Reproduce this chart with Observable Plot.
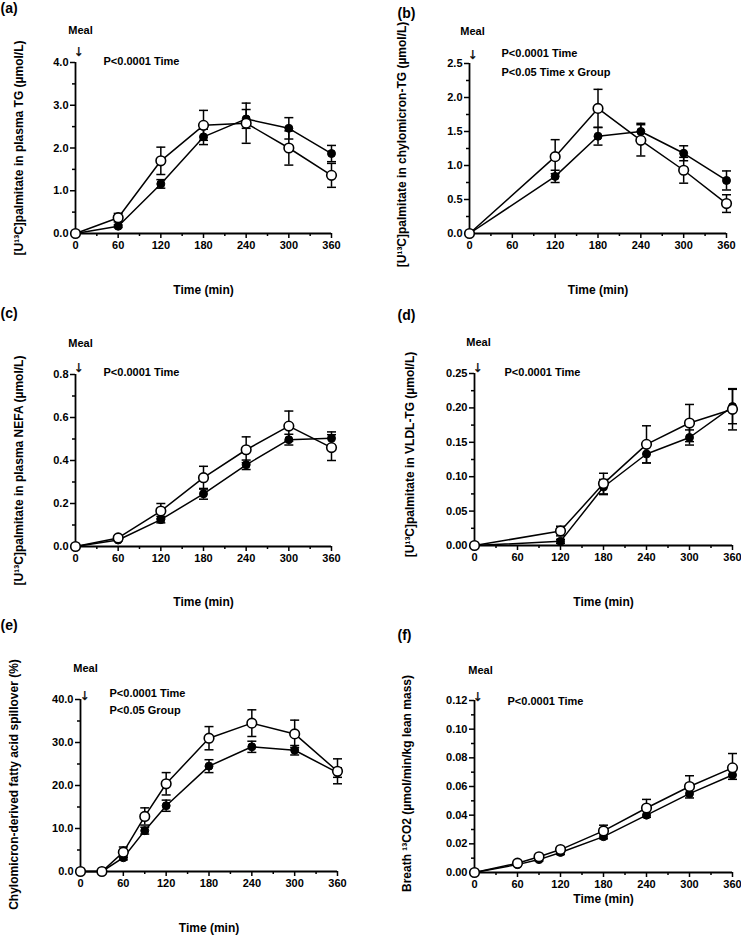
<!DOCTYPE html>
<html><head><meta charset="utf-8">
<script src="https://cdn.jsdelivr.net/npm/d3@7"></script>
<script src="https://cdn.jsdelivr.net/npm/@observablehq/plot@0.6"></script>
<style>
body{margin:0;background:#fff;}
#wrap{position:relative;width:741px;height:935px;overflow:hidden;background:#fff;}
.panel{position:absolute;}
</style></head><body><div id="wrap"></div>
<script>
// ---- data (mean ± SEM), open circles vs filled circles ----
const xTicks = [0, 60, 120, 180, 240, 300, 360];
const xMinor = [30, 90, 150, 210, 270, 330];

const timesA = [0, 60, 120, 180, 240, 300, 360];
const openA = [0, 0.37, 1.70, 2.53, 2.58, 2.00, 1.36];
const openErrA = [0, 0.10, 0.32, 0.35, 0.47, 0.40, 0.28];
const filledA = [0, 0.17, 1.16, 2.26, 2.68, 2.46, 1.87];
const filledErrA = [0, 0.03, 0.10, 0.18, 0.22, 0.25, 0.19];
const yTicksA = [0, 1, 2, 3, 4];
const yMinorA = [0.5, 1.5, 2.5, 3.5];

const timesB = [0, 120, 180, 240, 300, 360];
const openB = [0, 1.13, 1.84, 1.37, 0.93, 0.44];
const openErrB = [0, 0.25, 0.28, 0.23, 0.19, 0.13];
const filledB = [0, 0.84, 1.43, 1.50, 1.18, 0.78];
const filledErrB = [0, 0.09, 0.13, 0.12, 0.11, 0.14];
const yTicksB = [0, 0.5, 1.0, 1.5, 2.0, 2.5];
const yMinorB = [0.25, 0.75, 1.25, 1.75, 2.25];

const timesC = [0, 60, 120, 180, 240, 300, 360];
const openC = [0, 0.04, 0.165, 0.32, 0.45, 0.56, 0.46];
const openErrC = [0, 0.005, 0.035, 0.053, 0.06, 0.07, 0.06];
const filledC = [0, 0.03, 0.125, 0.245, 0.38, 0.497, 0.503];
const filledErrC = [0, 0.005, 0.015, 0.025, 0.022, 0.025, 0.03];
const yTicksC = [0, 0.2, 0.4, 0.6, 0.8];
const yMinorC = [0.1, 0.3, 0.5, 0.7];

const timesD = [0, 120, 180, 240, 300, 360];
const openD = [0, 0.021, 0.090, 0.147, 0.178, 0.198];
const openErrD = [0, 0.007, 0.015, 0.027, 0.027, 0.030];
const filledD = [0, 0.006, 0.085, 0.133, 0.157, 0.202];
const filledErrD = [0, 0.003, 0.011, 0.013, 0.011, 0.025];
const yTicksD = [0, 0.05, 0.10, 0.15, 0.20, 0.25];
const yMinorD = [0.025, 0.075, 0.125, 0.175, 0.225];

const timesE = [0, 30, 60, 90, 120, 180, 240, 300, 360];
const openE = [0, 0, 4.5, 12.8, 20.4, 31.0, 34.5, 32.0, 23.3];
const openErrE = [0, 0, 1.2, 2.0, 2.6, 2.7, 3.1, 3.2, 2.9];
const filledE = [0, 0, 3.2, 9.5, 15.3, 24.5, 29.0, 28.2, 23.0];
const filledErrE = [0, 0, 0.5, 0.8, 1.3, 1.5, 1.3, 1.1, 1.1];
const yTicksE = [0, 10, 20, 30, 40];
const yMinorE = [5, 15, 25, 35];

const timesF = [0, 60, 90, 120, 180, 240, 300, 360];
const openF = [0, 0.0065, 0.011, 0.016, 0.029, 0.045, 0.060, 0.073];
const openErrF = [0, 0.0005, 0.001, 0.0015, 0.004, 0.006, 0.0075, 0.010];
const filledF = [0, 0.0055, 0.009, 0.014, 0.025, 0.040, 0.055, 0.068];
const filledErrF = [0, 0.0005, 0.001, 0.0015, 0.0015, 0.0015, 0.003, 0.003];
const yTicksF = [0, 0.02, 0.04, 0.06, 0.08, 0.10, 0.12];
const yMinorF = [0.01, 0.03, 0.05, 0.07, 0.09, 0.11];

const panelLetters = ["(a)", "(b)", "(c)", "(d)", "(e)", "(f)"];
const yLabels = [
  "[U\u00B9\u00B3C]palmitate in plasma TG (\u00B5mol/L)",
  "[U\u00B9\u00B3C]palmitate in chylomicron-TG (\u00B5mol/L)",
  "[U\u00B9\u00B3C]palmitate in plasma NEFA (\u00B5mol/L)",
  "[U\u00B9\u00B3C]palmitate in VLDL-TG (\u00B5mol/L)",
  "Chylomicron-derived fatty acid spillover (%)",
  "Breath \u00B9\u00B3CO2 (\u00B5mol/min/kg lean mass)"
];
const pTexts = [
  ["P<0.0001 Time"],
  ["P<0.0001 Time", "P<0.05 Time x Group"],
  ["P<0.0001 Time"],
  ["P<0.0001 Time"],
  ["P<0.0001 Time", "P<0.05 Group"],
  ["P<0.0001 Time"]
];
const xLabel = "Time (min)";
const mealLabel = "Meal";
const arrowGlyph = "\u2193";

// ---- layout ----
const panels = [
  {times: timesA, open: openA, openErr: openErrA, filled: filledA, filledErr: filledErrA, yTicks: yTicksA, yMinor: yMinorA, fmt: ".1f",
   left: 0, top: 0, width: 370, height: 300, mL: 75, mR: 39, mT: 62, mB: 67,
   letter: [-75, -54], ylab: [-56, 0], xlab: 57, meal: [5, -32], arrow: [3, -10], p: [28, [-1]], errMode: "both"},
  {times: timesB, open: openB, openErr: openErrB, filled: filledB, filledErr: filledErrB, yTicks: yTicksB, yMinor: yMinorB, fmt: ".1f",
   left: 370, top: 0, width: 371, height: 300, mL: 99, mR: 15, mT: 63, mB: 67,
   letter: [-72, -50], ylab: [-67, -4], xlab: 57, meal: [3, -32], arrow: [3, -8], p: [32, [-10, 9]], errMode: "both"},
  {times: timesC, open: openC, openErr: openErrC, filled: filledC, filledErr: filledErrC, yTicks: yTicksC, yMinor: yMinorC, fmt: ".1f",
   left: 0, top: 300, width: 370, height: 310, mL: 75, mR: 39, mT: 74, mB: 64,
   letter: [-75, -61], ylab: [-56, 10], xlab: 56, meal: [5, -31], arrow: [3, -6], p: [28, [-2]], errMode: "both"},
  {times: timesD, open: openD, openErr: openErrD, filled: filledD, filledErr: filledErrD, yTicks: yTicksD, yMinor: yMinorD, fmt: ".2f",
   left: 370, top: 300, width: 371, height: 310, mL: 104, mR: 9, mT: 73, mB: 65,
   letter: [-77, -58], ylab: [-64, -5], xlab: 57, meal: [4, -31], arrow: [3, -5], p: [30, [-1]], errMode: "both"},
  {times: timesE, open: openE, openErr: openErrE, filled: filledE, filledErr: filledErrE, yTicks: yTicksE, yMinor: yMinorE, fmt: ".1f",
   left: 0, top: 610, width: 370, height: 325, mL: 80, mR: 33, mT: 89, mB: 64,
   letter: [-80, -74], ylab: [-66, -1], xlab: 57, meal: [5, -31], arrow: [4, -3], p: [29, [-6, 11]], errMode: "both"},
  {times: timesF, open: openF, openErr: openErrF, filled: filledF, filledErr: filledErrF, yTicks: yTicksF, yMinor: yMinorF, fmt: ".2f",
   left: 370, top: 610, width: 371, height: 325, mL: 104, mR: 9, mT: 90, mB: 63,
   letter: [-77, -65], ylab: [-67, -3], xlab: 27, meal: [6, -30], arrow: [3, -3], p: [33, [1]], errMode: "split"}
];

const capSymbol = {
  draw(ctx, size) {
    const w = Math.sqrt(size / Math.PI);
    ctx.moveTo(-w, 0);
    ctx.lineTo(w, 0);
  }
};

const FONT = "'Liberation Sans', Arial, Helvetica, sans-serif";
const wrap = document.getElementById("wrap");

panels.forEach((P, i) => {
  const rows = [];
  P.times.forEach((t, j) => {
    rows.push({t, m: P.filled[j], e: P.filledErr[j], g: "filled"});
  });
  P.times.forEach((t, j) => {
    rows.push({t, m: P.open[j], e: P.openErr[j], g: "open"});
  });
  const errRows = rows.filter(d => d.e > 0).map(d => {
    let lo = d.m - d.e, hi = d.m + d.e;
    if (P.errMode === "split") {
      if (d.g === "open") lo = d.m; else hi = d.m;
    }
    return {...d, lo, hi};
  });
  const caps = [];
  errRows.forEach(d => {
    if (d.lo < d.m) caps.push({t: d.t, v: d.lo});
    if (d.hi > d.m) caps.push({t: d.t, v: d.hi});
  });
  const yMax = P.yTicks[P.yTicks.length - 1];
  const fmt = d3.format(P.fmt);

  const marks = [
    Plot.axisY(P.yMinor, {tickSize: 3, fill: "none", strokeWidth: 1.5, label: null}),
    Plot.axisY({ticks: P.yTicks, tickFormat: fmt, tickSize: 5, tickPadding: 2, strokeWidth: 1.5, label: null, fontSize: 11, fontWeight: "bold"}),
    Plot.axisX(xMinor, {tickSize: 3, fill: "none", strokeWidth: 1.5, label: null}),
    Plot.axisX({ticks: xTicks, tickFormat: d => String(d), tickSize: 5, tickPadding: 3, strokeWidth: 1.5, label: null, fontSize: 11, fontWeight: "bold"}),
    Plot.ruleX([0], {stroke: "black", strokeWidth: 1.8}),
    Plot.ruleY([0], {stroke: "black", strokeWidth: 1.8}),
    Plot.ruleX(errRows, {x: "t", y1: "lo", y2: "hi", stroke: "black", strokeWidth: 1.5}),
    Plot.dot(caps, {x: "t", y: "v", symbol: capSymbol, r: 4.5, fill: "none", stroke: "black", strokeWidth: 1.5}),
    Plot.line(rows, {x: "t", y: "m", z: "g", stroke: "black", strokeWidth: 1.5}),
    Plot.dot(rows.filter(d => d.g === "filled"), {x: "t", y: "m", r: 4, fill: "black", stroke: "black", strokeWidth: 1}),
    Plot.dot(rows.filter(d => d.g === "open"), {x: "t", y: "m", r: 4.8, fill: "white", stroke: "black", strokeWidth: 1.6}),
    Plot.text([panelLetters[i]], {text: d => d, frameAnchor: "top-left", textAnchor: "start", lineAnchor: "middle", dx: P.letter[0], dy: P.letter[1], fontSize: 14, fontWeight: "bold", fill: "black"}),
    Plot.text([yLabels[i]], {text: d => d, frameAnchor: "left", textAnchor: "middle", lineAnchor: "middle", rotate: -90, dx: P.ylab[0], dy: P.ylab[1], fontSize: 12, fontWeight: "bold", fill: "black"}),
    Plot.text([xLabel], {text: d => d, frameAnchor: "bottom", textAnchor: "middle", lineAnchor: "middle", dy: P.xlab, fontSize: 12, fontWeight: "bold", fill: "black"}),
    Plot.text([mealLabel], {text: d => d, frameAnchor: "top-left", textAnchor: "middle", lineAnchor: "middle", dx: P.meal[0], dy: P.meal[1], fontSize: 11, fontWeight: "bold", fill: "black"}),
    Plot.text([arrowGlyph], {text: d => d, frameAnchor: "top-left", textAnchor: "middle", lineAnchor: "middle", rotate: 0.01, opacity: 0.99, dx: P.arrow[0], dy: P.arrow[1], fontSize: 12, fontWeight: "normal", fontFamily: "'DejaVu Sans', 'Liberation Sans', sans-serif", fill: "black", stroke: "black", strokeWidth: 0.3}),
    ...pTexts[i].map((s, k) => Plot.text([s], {text: d => d, frameAnchor: "top-left", textAnchor: "start", lineAnchor: "middle", dx: P.p[0], dy: P.p[1][k], fontSize: 11, fontWeight: "bold", fill: "black"}))
  ];

  const svg = Plot.plot({
    width: P.width,
    height: P.height,
    marginLeft: P.mL,
    marginRight: P.mR,
    marginTop: P.mT,
    marginBottom: P.mB,
    x: {domain: [0, 360], label: null},
    y: {domain: [0, yMax], label: null},
    style: {fontFamily: FONT, fontSize: "11px", fontWeight: "bold", color: "black", background: "white", overflow: "visible"},
    marks
  });
  const div = document.createElement("div");
  div.className = "panel";
  div.style.left = P.left + "px";
  div.style.top = P.top + "px";
  div.appendChild(svg);
  wrap.appendChild(div);
});
</script>
</body></html>
